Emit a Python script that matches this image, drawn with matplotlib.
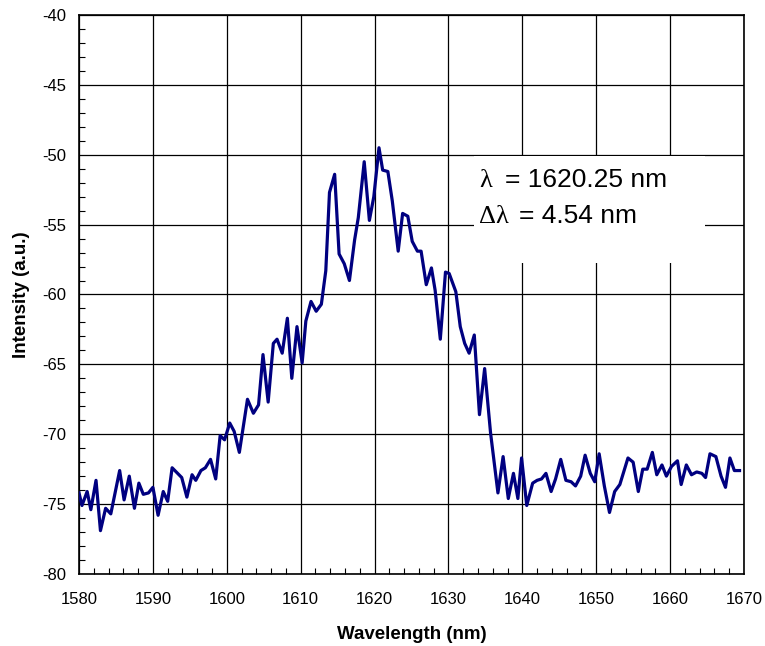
import numpy as np
import matplotlib
matplotlib.use("Agg")
import matplotlib.pyplot as plt
from matplotlib.patches import Rectangle
from matplotlib.ticker import MultipleLocator

plt.rcParams["font.family"] = ["Liberation Sans", "DejaVu Sans"]
plt.rcParams["axes.unicode_minus"] = False

# spectrum
wavelength = [
    1580.0, 1580.4, 1581.1, 1581.6, 1582.3, 1582.9, 1583.6, 1584.3, 1585.5, 1586.1,
    1586.8, 1587.5, 1588.1, 1588.7, 1589.4, 1590.0, 1590.7, 1591.4, 1592.0, 1592.6,
    1593.9, 1594.6, 1595.3, 1595.8, 1596.5, 1597.1, 1597.8, 1598.5, 1599.1, 1599.7,
    1600.4, 1601.0, 1601.7, 1602.8, 1603.6, 1604.3, 1604.9, 1605.6, 1606.3, 1606.8,
    1607.5, 1608.2, 1608.8, 1609.5, 1610.2, 1610.7, 1611.4, 1612.1, 1612.8, 1613.4,
    1613.9, 1614.6, 1615.2, 1615.9, 1616.6, 1617.3, 1617.8, 1618.6, 1619.3, 1619.9,
    1620.6, 1621.1, 1621.8, 1622.4, 1623.2, 1623.8, 1624.5, 1625.1, 1625.8, 1626.3,
    1627.0, 1627.7, 1628.2, 1628.9, 1629.6, 1630.1, 1631.0, 1631.6, 1632.2, 1632.8,
    1633.5, 1634.2, 1634.9, 1635.7, 1636.7, 1637.4, 1638.1, 1638.8, 1639.4, 1639.9,
    1640.6, 1641.4, 1642.0, 1642.6, 1643.2, 1643.9, 1644.5, 1645.2, 1645.9, 1646.6,
    1647.2, 1647.9, 1648.5, 1649.2, 1649.8, 1650.4, 1651.1, 1651.8, 1652.5, 1653.2,
    1654.3, 1655.0, 1655.7, 1656.3, 1656.9, 1657.6, 1658.2, 1658.9, 1659.5, 1660.2,
    1661.0, 1661.5, 1662.2, 1662.9, 1663.6, 1664.3, 1664.8, 1665.4, 1666.2, 1666.9,
    1667.5, 1668.1, 1668.7, 1669.4,
]
intensity = [
    -74.2, -75.1, -74.1, -75.4, -73.3, -76.9, -75.3, -75.7, -72.6, -74.7,
    -73.0, -75.3, -73.5, -74.3, -74.2, -73.8, -75.8, -74.1, -74.8, -72.4,
    -73.1, -74.5, -72.9, -73.3, -72.6, -72.4, -71.8, -73.2, -70.1, -70.4,
    -69.2, -69.8, -71.3, -67.5, -68.5, -67.9, -64.3, -67.7, -63.5, -63.2,
    -64.2, -61.7, -66.0, -62.3, -64.9, -61.9, -60.5, -61.2, -60.7, -58.3,
    -52.7, -51.4, -57.1, -57.8, -59.0, -56.1, -54.5, -50.5, -54.7, -53.0,
    -49.5, -51.1, -51.2, -53.3, -56.9, -54.2, -54.4, -56.2, -56.9, -56.9,
    -59.3, -58.1, -59.7, -63.2, -58.4, -58.5, -59.8, -62.3, -63.5, -64.2,
    -62.9, -68.6, -65.3, -69.9, -74.2, -71.6, -74.6, -72.8, -74.6, -71.7,
    -75.1, -73.5, -73.3, -73.2, -72.8, -74.1, -73.2, -71.8, -73.3, -73.4,
    -73.7, -73.0, -71.5, -72.8, -73.4, -71.4, -73.7, -75.6, -74.1, -73.6,
    -71.7, -72.0, -74.1, -72.5, -72.5, -71.3, -72.9, -72.2, -73.0, -72.3,
    -71.9, -73.6, -72.2, -72.9, -72.7, -72.8, -73.1, -71.4, -71.6, -73.0,
    -73.8, -71.7, -72.6, -72.6,
]

fig = plt.figure(figsize=(7.65, 6.46), dpi=100)
ax = fig.add_axes([0.1033, 0.1115, 0.8692, 0.8653])

ax.plot(wavelength, intensity, color="#000080", linewidth=2.3, zorder=3)

ax.set_xlim(1580, 1670)
ax.set_ylim(-80, -40)
ax.xaxis.set_major_locator(MultipleLocator(10))
ax.xaxis.set_minor_locator(MultipleLocator(2))
ax.yaxis.set_major_locator(MultipleLocator(5))
ax.yaxis.set_minor_locator(MultipleLocator(1))
ax.tick_params(which="major", length=0, labelsize=12, pad=9)
ax.tick_params(axis="x", which="major", pad=13)
ax.tick_params(which="minor", direction="in", length=4, width=0.8)
ax.grid(which="major", color="black", linewidth=0.9)
ax.set_axisbelow(True)
for sp in ax.spines.values():
    sp.set_linewidth(1.2)

ax.set_xlabel("Wavelength (nm)", fontsize=13.5, fontweight="bold", labelpad=14)
ax.set_ylabel("Intensity (a.u.)", fontsize=13.5, fontweight="bold", labelpad=9)

# white box behind the annotation hides the grid
ax.add_patch(Rectangle((1633.5, -57.75), 31.2, 7.65, facecolor="white",
                       edgecolor="none", zorder=1))

serif = ["Liberation Serif", "DejaVu Serif"]
ax.text(1634.2, -52.3, "λ", fontsize=19, family=serif, zorder=4)
ax.text(1637.6, -52.3, "= 1620.25 nm", fontsize=19, zorder=4)
ax.text(1634.2, -54.9, "Δλ", fontsize=19, family=serif, zorder=4)
ax.text(1639.6, -54.9, "= 4.54 nm", fontsize=19, zorder=4)

fig.savefig("out.png", dpi=100)
